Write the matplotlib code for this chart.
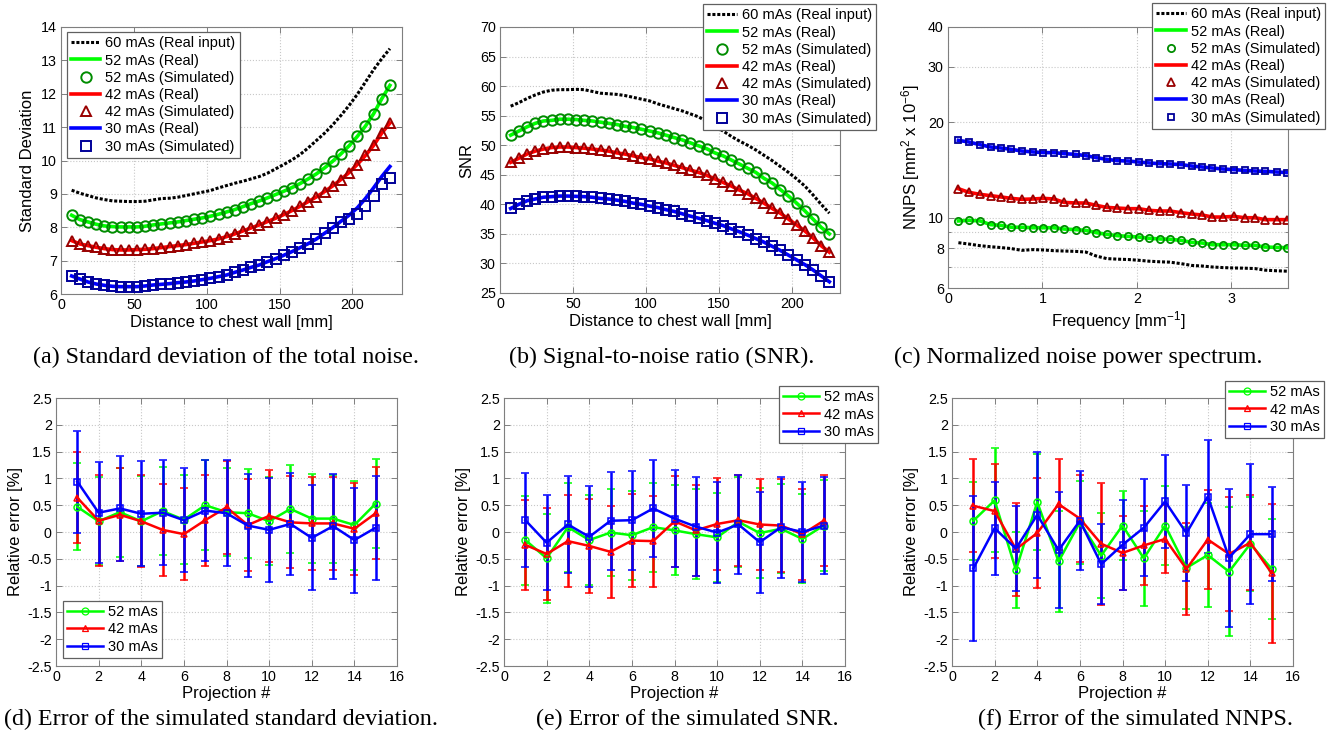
import matplotlib
matplotlib.use("Agg")
import matplotlib.pyplot as plt
from matplotlib.ticker import FixedLocator, NullFormatter
from matplotlib.lines import Line2D

plt.rcParams['font.family'] = ['Liberation Sans', 'DejaVu Sans']
plt.rcParams['mathtext.fontset'] = 'custom'
plt.rcParams['mathtext.rm'] = 'Liberation Sans'
plt.rcParams['mathtext.it'] = 'Liberation Sans'

# ---------------- data ----------------
dist_mm = [7.3, 12.9, 18.5, 24.1, 29.7, 35.3, 40.9, 46.5, 52.1, 57.7, 63.3, 68.9, 74.5, 80.1,
           85.7, 91.3, 96.9, 102.5, 108.1, 113.7, 119.3, 124.9, 130.5, 136.1, 141.7, 147.3,
           152.9, 158.5, 164.1, 169.7, 175.3, 180.9, 186.5, 192.1, 197.7, 203.3, 208.9,
           214.5, 220.1, 225.7]

# (a) standard deviation
sd_60_real = [9.11, 9.02, 8.95, 8.88, 8.83, 8.79, 8.78, 8.77, 8.77, 8.78, 8.82, 8.86, 8.87, 8.90,
              8.95, 9.00, 9.05, 9.10, 9.18, 9.25, 9.32, 9.38, 9.45, 9.52, 9.62, 9.75, 9.88, 10.02,
              10.18, 10.38, 10.60, 10.82, 11.07, 11.35, 11.65, 11.98, 12.35, 12.72, 13.05, 13.35]
sd_52 = [8.36, 8.23, 8.16, 8.09, 8.04, 8.02, 8.01, 8.01, 8.01, 8.03, 8.07, 8.10, 8.13, 8.16,
         8.20, 8.24, 8.28, 8.33, 8.39, 8.46, 8.53, 8.62, 8.71, 8.79, 8.88, 8.98, 9.08, 9.19,
         9.31, 9.45, 9.60, 9.78, 9.98, 10.20, 10.44, 10.72, 11.03, 11.40, 11.85, 12.25]
sd_42 = [7.60, 7.50, 7.45, 7.40, 7.36, 7.33, 7.32, 7.32, 7.33, 7.34, 7.36, 7.39, 7.42, 7.45,
         7.48, 7.52, 7.56, 7.60, 7.65, 7.72, 7.80, 7.89, 7.98, 8.07, 8.17, 8.27, 8.38, 8.50,
         8.63, 8.77, 8.91, 9.07, 9.24, 9.43, 9.64, 9.88, 10.15, 10.45, 10.82, 11.12]
sd_30_sim = [6.54, 6.45, 6.36, 6.30, 6.26, 6.23, 6.22, 6.22, 6.22, 6.24, 6.27, 6.29, 6.31, 6.34,
             6.36, 6.39, 6.43, 6.47, 6.52, 6.57, 6.65, 6.72, 6.80, 6.87, 6.97, 7.06, 7.16, 7.27,
             7.39, 7.51, 7.65, 7.82, 7.99, 8.15, 8.26, 8.41, 8.63, 8.93, 9.29, 9.48]
sd_30_real = [6.54, 6.45, 6.36, 6.30, 6.26, 6.23, 6.22, 6.22, 6.22, 6.24, 6.27, 6.29, 6.31, 6.34,
              6.36, 6.39, 6.43, 6.47, 6.52, 6.57, 6.65, 6.72, 6.80, 6.87, 6.97, 7.06, 7.16, 7.27,
              7.39, 7.51, 7.65, 7.82, 7.99, 8.18, 8.36, 8.58, 8.86, 9.18, 9.52, 9.82]

# (b) SNR
snr_60_real = [56.6, 57.2, 57.9, 58.5, 59.0, 59.3, 59.4, 59.4, 59.45, 59.4, 59.1, 58.8, 58.7, 58.6,
               58.4, 58.1, 57.8, 57.5, 57.0, 56.6, 56.2, 55.8, 55.3, 54.8, 54.0, 53.2, 52.4, 51.5,
               50.7, 50.0, 49.2, 48.3, 47.4, 46.4, 45.4, 44.3, 43.1, 41.6, 40.0, 38.5]
snr_52 = [51.7, 52.4, 53.1, 53.7, 54.1, 54.2, 54.4, 54.4, 54.35, 54.2, 54.1, 53.9, 53.7, 53.5,
          53.2, 53.0, 52.7, 52.4, 52.1, 51.7, 51.3, 50.9, 50.4, 49.9, 49.4, 48.7, 48.2, 47.5,
          46.8, 46.1, 45.4, 44.4, 43.6, 42.5, 41.4, 40.2, 38.9, 37.5, 36.1, 35.0]
snr_42 = [47.1, 47.8, 48.5, 49.0, 49.35, 49.6, 49.7, 49.7, 49.6, 49.5, 49.35, 49.2, 49.0, 48.7,
          48.5, 48.2, 47.9, 47.7, 47.3, 47.0, 46.6, 46.2, 45.8, 45.4, 44.9, 44.3, 43.7, 43.1,
          42.4, 41.8, 41.0, 40.2, 39.3, 38.5, 37.5, 36.5, 35.5, 34.3, 33.0, 31.9]
snr_30 = [39.3, 40.0, 40.6, 40.9, 41.2, 41.3, 41.4, 41.4, 41.35, 41.3, 41.2, 41.0, 40.9, 40.7,
          40.5, 40.2, 40.0, 39.7, 39.45, 39.1, 38.8, 38.4, 38.0, 37.65, 37.25, 36.8, 36.4, 35.85,
          35.35, 34.8, 34.2, 33.6, 32.9, 32.2, 31.4, 30.6, 29.8, 28.9, 27.9, 26.9]

# (c) NNPS
freq = [0.11, 0.22, 0.34, 0.45, 0.56, 0.67, 0.78, 0.90, 1.01, 1.12, 1.23, 1.35, 1.46, 1.57,
        1.68, 1.79, 1.91, 2.02, 2.13, 2.24, 2.35, 2.47, 2.58, 2.69, 2.80, 2.91, 3.03, 3.14,
        3.25, 3.36, 3.48, 3.59]
nnps_60_real = [8.34, 8.26, 8.16, 8.10, 8.05, 7.99, 7.89, 7.93, 7.91, 7.87, 7.85, 7.83, 7.79, 7.57,
                7.43, 7.40, 7.38, 7.34, 7.29, 7.26, 7.24, 7.16, 7.07, 7.04, 6.99, 6.96, 6.94, 6.93,
                6.91, 6.83, 6.80, 6.78]
nnps_52 = [9.77, 9.81, 9.77, 9.51, 9.46, 9.33, 9.33, 9.30, 9.30, 9.30, 9.21, 9.17, 9.12, 8.97,
           8.86, 8.78, 8.73, 8.69, 8.61, 8.57, 8.55, 8.48, 8.36, 8.32, 8.22, 8.22, 8.22, 8.18,
           8.18, 8.08, 8.06, 8.04]
nnps_42 = [12.35, 12.03, 11.85, 11.74, 11.63, 11.51, 11.43, 11.46, 11.51, 11.46, 11.18, 11.13,
           11.13, 10.94, 10.78, 10.73, 10.68, 10.68, 10.55, 10.50, 10.50, 10.37, 10.27, 10.20,
           10.05, 10.05, 10.10, 10.00, 10.00, 9.86, 9.86, 9.86]
nnps_30 = [17.55, 17.34, 17.00, 16.72, 16.60, 16.44, 16.24, 16.13, 16.05, 16.05, 15.93, 15.85,
           15.70, 15.47, 15.29, 15.14, 15.10, 14.99, 14.89, 14.81, 14.78, 14.71, 14.56, 14.46,
           14.35, 14.25, 14.18, 14.11, 14.04, 14.01, 13.94, 13.88]

# (d)-(f) relative errors per projection
projection = [1, 2, 3, 4, 5, 6, 7, 8, 9, 10, 11, 12, 13, 14, 15]

d_52_mean = [0.47, 0.20, 0.37, 0.20, 0.39, 0.23, 0.50, 0.37, 0.35, 0.20, 0.43, 0.25, 0.25, 0.13, 0.53]
d_52_err = [0.81, 0.82, 0.83, 0.84, 0.82, 0.83, 0.84, 0.82, 0.83, 0.82, 0.82, 0.83, 0.82, 0.83, 0.83]
d_42_mean = [0.64, 0.21, 0.32, 0.20, 0.04, -0.04, 0.22, 0.46, 0.13, 0.30, 0.18, 0.16, 0.16, 0.06, 0.35]
d_42_err = [0.85, 0.85, 0.87, 0.86, 0.86, 0.86, 0.85, 0.87, 0.86, 0.86, 0.86, 0.86, 0.86, 0.86, 0.86]
d_30_mean = [0.94, 0.36, 0.44, 0.34, 0.36, 0.22, 0.40, 0.35, 0.12, 0.04, 0.15, -0.11, 0.11, -0.15, 0.08]
d_30_err = [0.95, 0.94, 0.98, 0.98, 0.98, 0.97, 0.95, 0.99, 0.96, 0.97, 0.96, 0.98, 0.98, 0.98, 0.97]

e_52_mean = [-0.15, -0.49, 0.09, -0.15, -0.01, -0.06, 0.09, 0.03, -0.04, -0.10, 0.19, -0.02, 0.06, -0.13, 0.12]
e_52_err = [0.83, 0.83, 0.83, 0.84, 0.82, 0.83, 0.83, 0.84, 0.84, 0.83, 0.84, 0.84, 0.83, 0.83, 0.85]
e_42_mean = [-0.24, -0.41, -0.17, -0.26, -0.37, -0.16, -0.17, 0.20, 0.03, 0.15, 0.22, 0.14, 0.12, -0.04, 0.21]
e_42_err = [0.84, 0.85, 0.86, 0.87, 0.86, 0.86, 0.85, 0.85, 0.85, 0.85, 0.85, 0.85, 0.87, 0.85, 0.85]
e_30_mean = [0.22, -0.20, 0.14, -0.09, 0.21, 0.22, 0.44, 0.25, 0.10, -0.01, 0.14, -0.19, 0.09, 0.00, 0.12]
e_30_err = [0.88, 0.89, 0.91, 0.94, 0.91, 0.92, 0.91, 0.91, 0.92, 0.94, 0.92, 0.94, 0.94, 0.94, 0.90]

f_52_mean = [0.21, 0.59, -0.71, 0.56, -0.55, 0.18, -0.44, 0.12, -0.49, 0.12, -0.67, -0.43, -0.74, -0.22, -0.69]
f_52_err = [0.73, 0.97, 0.71, 0.90, 0.95, 0.77, 0.79, 0.64, 0.89, 0.73, 0.77, 0.97, 1.20, 0.88, 0.93]
f_42_mean = [0.49, 0.39, -0.32, -0.02, 0.52, 0.25, -0.22, -0.39, -0.25, -0.13, -0.69, -0.14, -0.41, -0.20, -0.77]
f_42_err = [0.87, 0.88, 0.87, 1.03, 0.85, 0.81, 1.14, 0.69, 0.74, 0.63, 0.86, 0.93, 1.06, 0.89, 1.30]
f_30_mean = [-0.68, 0.07, -0.31, 0.32, -0.34, 0.21, -0.60, -0.24, 0.08, 0.57, -0.02, 0.66, -0.48, -0.04, -0.04]
f_30_err = [1.36, 0.87, 0.79, 1.17, 1.08, 0.92, 0.75, 0.84, 0.90, 0.86, 0.90, 1.06, 1.29, 1.31, 0.88]

captions = ["(a) Standard deviation of the total noise.",
            "(b) Signal-to-noise ratio (SNR).",
            "(c) Normalized noise power spectrum.",
            "(d) Error of the simulated standard deviation.",
            "(e) Error of the simulated SNR.",
            "(f) Error of the simulated NNPS."]

# ---------------- style ----------------
W, H = 1344, 747
fig = plt.figure(figsize=(W / 100, H / 100), dpi=100)

GREEN, RED, BLUE = (0, 1, 0), (1, 0, 0), (0, 0, 1)
DGREEN, DRED, DBLUE = (0, 0.55, 0), (0.6, 0, 0), (0, 0, 0.6)
AXC = '#7f7f7f'
TICK_FS = 10.3
LAB_FS = 12
LEG_FS = 10.5


def box(l, r, t, b):
    return [l / W, 1 - b / H, (r - l) / W, (b - t) / H]


def style(ax):
    for s in ax.spines.values():
        s.set_color(AXC)
        s.set_linewidth(0.8)
    ax.tick_params(which='both', direction='in', top=True, right=True, length=4,
                   width=0.7, color=AXC, labelsize=TICK_FS, labelcolor='black', pad=3)
    ax.grid(True, which='major', linestyle=':', color='#c8c8c8', linewidth=0.8)
    ax.set_axisbelow(True)


def legend(ax, x, y, loc='upper left', hl=2.0, handles=None):
    kw = dict(loc=loc, bbox_to_anchor=(x / W, 1 - y / H), bbox_transform=fig.transFigure,
              borderaxespad=0, fontsize=LEG_FS, fancybox=False, framealpha=1,
              edgecolor='#606060', handlelength=hl, handletextpad=0.35,
              labelspacing=0.22, borderpad=0.3, numpoints=1)
    if handles is not None:
        lg = ax.legend(handles=handles, **kw)
    else:
        lg = ax.legend(**kw)
    lg.get_frame().set_linewidth(0.9)
    return lg


def curve_panel(ax, x, s60, s52r, s52s, s42r, s42s, s30r, s30s, ms, mew):
    ax.plot(x, s60, color='k', linestyle=(0, (1, 0.6)), lw=2.2, label='60 mAs (Real input)')
    ax.plot(x, s52r, color=GREEN, lw=2.6, label='52 mAs (Real)')
    ax.plot(x, s52s, linestyle='none', marker='o', ms=ms, mfc='none', mec=DGREEN, mew=mew,
            label='52 mAs (Simulated)')
    ax.plot(x, s42r, color=RED, lw=2.6, label='42 mAs (Real)')
    ax.plot(x, s42s, linestyle='none', marker='^', ms=ms, mfc='none', mec=DRED, mew=mew,
            label='42 mAs (Simulated)')
    ax.plot(x, s30r, color=BLUE, lw=2.6, label='30 mAs (Real)')
    ax.plot(x, s30s, linestyle='none', marker='s', ms=ms * 0.9, mfc='none', mec=DBLUE, mew=mew,
            label='30 mAs (Simulated)')


# (a)
ax = fig.add_axes(box(61, 402, 27, 294))
style(ax)
curve_panel(ax, dist_mm, sd_60_real, sd_52, sd_52, sd_42, sd_42, sd_30_real, sd_30_sim, 7.5, 1.4)
ax.set_xlim(0, 234)
ax.set_ylim(6, 14)
ax.set_xticks([0, 50, 100, 150, 200])
ax.set_yticks(range(6, 15))
ax.set_xlabel('Distance to chest wall [mm]', fontsize=LAB_FS, labelpad=2)
ax.set_ylabel('Standard Deviation', fontsize=LAB_FS, labelpad=4)
legend(ax, 66.7, 32)

# (b)
ax = fig.add_axes(box(500, 840, 27, 293))
style(ax)
curve_panel(ax, dist_mm, snr_60_real, snr_52, snr_52, snr_42, snr_42, snr_30, snr_30, 7.5, 1.4)
ax.set_xlim(0, 233)
ax.set_ylim(25, 70)
ax.set_xticks([0, 50, 100, 150, 200])
ax.set_yticks(range(25, 71, 5))
ax.set_xlabel('Distance to chest wall [mm]', fontsize=LAB_FS, labelpad=2)
ax.set_ylabel('SNR', fontsize=LAB_FS, labelpad=4)
legend(ax, 703, 4)

# (c)
ax = fig.add_axes(box(948, 1288, 27, 288))
style(ax)
curve_panel(ax, freq, nnps_60_real, nnps_52, nnps_52, nnps_42, nnps_42, nnps_30, nnps_30, 5.2, 1.3)
ax.set_yscale('log')
ax.set_xlim(0, 3.6)
ax.set_ylim(6, 40)
ax.set_xticks([0, 1, 2, 3])
ax.yaxis.set_major_locator(FixedLocator([6, 8, 10, 20, 30, 40]))
ax.yaxis.set_minor_locator(FixedLocator([7, 9]))
ax.yaxis.set_minor_formatter(NullFormatter())
ax.set_yticklabels(['6', '8', '10', '20', '30', '40'])
ax.grid(True, which='minor', axis='y', linestyle=':', color='#c8c8c8', linewidth=0.8)
ax.tick_params(which='minor', length=2)
ax.set_xlabel('Frequency [mm$^{-1}$]', fontsize=LAB_FS, labelpad=2)
ax.set_ylabel('NNPS [mm$^{2}$ x 10$^{-6}$]', fontsize=LAB_FS, labelpad=4)
legend(ax, 1152, 3)


ERR_HANDLES = [
    Line2D([], [], color=GREEN, lw=1.8, marker='o', ms=5, mfc='none', mew=0.9, label='52 mAs'),
    Line2D([], [], color=RED, lw=1.8, marker='^', ms=5, mfc='none', mew=0.9, label='42 mAs'),
    Line2D([], [], color=BLUE, lw=1.8, marker='s', ms=5, mfc='none', mew=0.9, label='30 mAs'),
]


def err_panel(ax, m52, e52, m42, e42, m30, e30):
    kw = dict(lw=1.8, elinewidth=1.8, capsize=3.2, capthick=1.8, ms=5, mfc='none', mew=1.1)
    ax.errorbar(projection, m52, yerr=e52, color=GREEN, marker='o', **kw)
    ax.errorbar(projection, m42, yerr=e42, color=RED, marker='^', **kw)
    ax.errorbar(projection, m30, yerr=e30, color=BLUE, marker='s', **kw)
    ax.set_xlim(0, 16)
    ax.set_ylim(-2.5, 2.5)
    ax.set_xticks(range(0, 17, 2))
    ax.set_yticks([-2.5, -2, -1.5, -1, -0.5, 0, 0.5, 1, 1.5, 2, 2.5])
    ax.set_yticklabels(['-2.5', '-2', '-1.5', '-1', '-0.5', '0', '0.5', '1', '1.5', '2', '2.5'])
    ax.set_xlabel('Projection #', fontsize=LAB_FS, labelpad=1)
    ax.set_ylabel('Relative error [%]', fontsize=LAB_FS, labelpad=3)


ax = fig.add_axes(box(56, 397, 398, 666))
style(ax)
err_panel(ax, d_52_mean, d_52_err, d_42_mean, d_42_err, d_30_mean, d_30_err)
legend(ax, 62.7, 658, loc='lower left', hl=2.45, handles=ERR_HANDLES)

ax = fig.add_axes(box(504, 845, 398, 666))
style(ax)
err_panel(ax, e_52_mean, e_52_err, e_42_mean, e_42_err, e_30_mean, e_30_err)
legend(ax, 779, 386, hl=2.45, handles=ERR_HANDLES)

ax = fig.add_axes(box(952, 1293, 398, 666))
style(ax)
err_panel(ax, f_52_mean, f_52_err, f_42_mean, f_42_err, f_30_mean, f_30_err)
legend(ax, 1225, 381, hl=2.45, handles=ERR_HANDLES)

# captions
cap_pos = [(226, 357), (662, 357), (1078, 357), (221, 719), (687, 719), (1135, 719)]
for txt, (cx, cy) in zip(captions, cap_pos):
    fig.text(cx / W, 1 - cy / H, txt, ha='center', va='center', fontsize=17.3,
             family=['Liberation Serif', 'DejaVu Serif'])

fig.savefig('out.png', dpi=100)
